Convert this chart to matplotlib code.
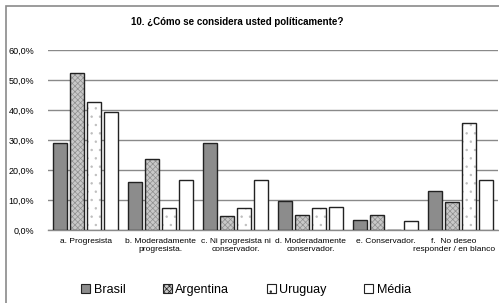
import numpy as np
import matplotlib
matplotlib.use("Agg")
import matplotlib.pyplot as plt
from matplotlib.patches import Rectangle, Patch
from matplotlib.ticker import FuncFormatter

plt.rcParams['font.family'] = ['Liberation Sans Narrow', 'Liberation Sans', 'DejaVu Sans']
plt.rcParams['hatch.linewidth'] = 0.5

categories = ["a. Progresista", "b. Moderadamente\nprogresista.",
              "c. Ni progresista ni\nconservador.", "d. Moderadamente\nconservador.",
              "e. Conservador.", "f.  No deseo\nresponder / en blanco"]
series = ["Brasil", "Argentina", "Uruguay", "Média"]
brasil = [29.1, 16.1, 29.1, 9.7, 3.2, 12.9]
argentina = [52.4, 23.7, 4.8, 4.9, 4.9, 9.4]
uruguay = [42.8, 7.2, 7.2, 7.2, 0.0, 35.8]
media = [39.2, 16.7, 16.7, 7.6, 3.0, 16.7]
values = [brasil, argentina, uruguay, media]

# fill colour, hatch, hatch colour
styles = [("#8c8c8c", None, None),
          ("#c8c8c8", "xxxxxx", "#8f8f8f"),
          ("#ffffff", "..", "#bdbdbd"),
          ("#ffffff", None, None)]

fig = plt.figure(figsize=(4.99, 3.03), dpi=100)
ax = fig.add_axes([48 / 499, 1 - 230 / 303, 450 / 499, 180 / 303])

x = np.arange(len(categories))
w = 0.187
step = 0.227
offsets = (np.arange(4) - 1.5) * step

for vals, off, (fc, hatch, hc) in zip(values, offsets, styles):
    v = np.array(vals) / 100
    ax.bar(x + off, v, w, color=fc, edgecolor=hc if hatch else fc,
           hatch=hatch, linewidth=0, zorder=3)
    ax.bar(x + off, v, w, fill=False, edgecolor="#222222", linewidth=1.0, zorder=4)

ax.set_xlim(-0.5, len(categories) - 0.5)
ax.set_ylim(0, 0.6)
ax.set_yticks(np.arange(0, 0.61, 0.1))
ax.yaxis.set_major_formatter(FuncFormatter(lambda v, p: f"{v * 100:.1f}%".replace(".", ",")))
ax.set_xticks([])
# category labels; the last one is nudged left so it stays inside the figure
for i, cat in enumerate(categories):
    xi = i - 0.09 if i == len(categories) - 1 else i
    ax.text(xi, -0.045, cat, transform=ax.get_xaxis_transform(), ha="center", va="top",
            fontsize=6, linespacing=1.15)
ax.tick_params(axis="y", length=0, pad=10, labelsize=6.5)
ax.grid(axis="y", color="#8a8a8a", linewidth=1.0, zorder=0)
for s in ["top", "right", "left"]:
    ax.spines[s].set_visible(False)
ax.spines["bottom"].set_color("#8a8a8a")
ax.spines["bottom"].set_linewidth(1.0)

fig.text(237 / 499, 1 - 22 / 303, "10. ¿Cómo se considera usted políticamente?",
         ha="center", va="center", fontsize=7, fontweight="bold")

handles = []
for name, (fc, hatch, hc) in zip(series, styles):
    handles.append(Patch(facecolor=fc, edgecolor="#222222", hatch=hatch, linewidth=0.8, label=name))
fig.legend(handles=handles, loc="center", bbox_to_anchor=(246 / 499, 1 - 290 / 303),
           ncol=4, frameon=False, fontsize=9, handlelength=0.7, handleheight=0.7,
           handletextpad=0.3, columnspacing=3.0)

fig.add_artist(Rectangle((6 / 499, -0.1), 1.2, 1 - 6 / 303 + 0.1, transform=fig.transFigure,
                         fill=False, edgecolor="#8a8a8a", linewidth=1.2))

fig.savefig("out.png", dpi=100)
